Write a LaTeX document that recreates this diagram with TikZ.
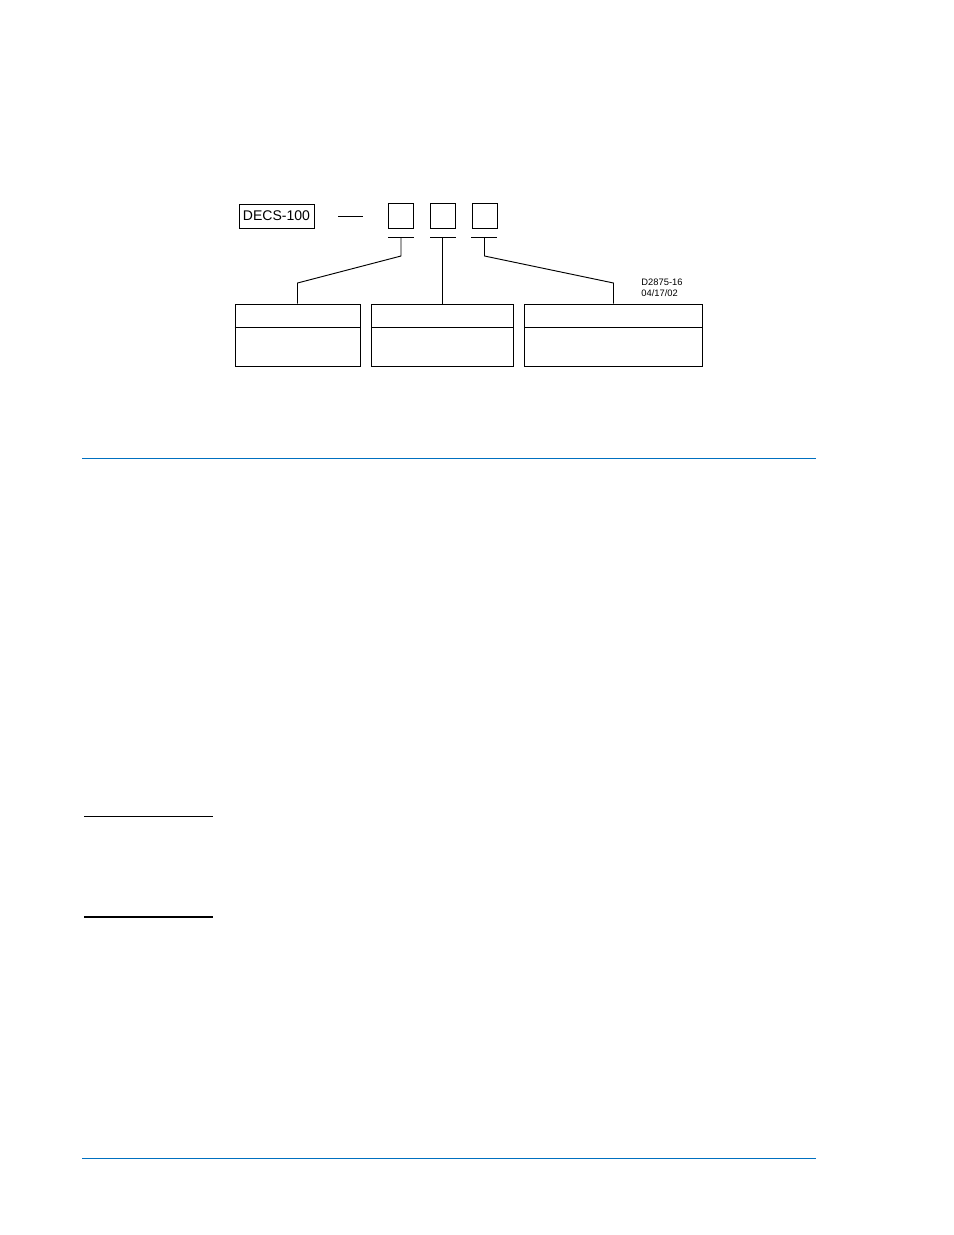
\documentclass[tikz,border=0pt]{standalone}
\usepackage{fontspec}
\setmainfont{Liberation Sans}
\usetikzlibrary{calc}
\definecolor{rule}{RGB}{0,112,192}
\begin{document}
\begin{tikzpicture}[x=0.6415pt,y=-0.6415pt,
  line width=0.6pt,
  box/.style={draw,inner sep=0pt,line width=0.6pt},
  sq/.style={box,minimum width=16.0pt,minimum height=16.0pt},
  bigbox/.style={box,minimum height=40.1pt},
  wire/.style={line width=0.6pt},
  bluerule/.style={draw=rule,line width=0.7pt}]
\useasboundingbox (0,0) rectangle (954,1235);

% model number part
\node[box,minimum width=48.1pt,minimum height=15.4pt,font=\fontsize{9}{10}\selectfont] (decs) at (276.5,216) {DECS-100};
\coordinate (d1) at (338,216);
\coordinate (d2) at (363,216);
\draw[wire] (d1) -- (d2);

\node[sq] (s1) at (400.5,215.5) {};
\node[sq] (s2) at (443,215.5) {};
\node[sq] (s3) at (484.5,215.5) {};

% underline bars
\coordinate (b1l) at (388,237); \coordinate (b1r) at (414,237); \coordinate (b1m) at (401,237);
\coordinate (b2l) at (430,237); \coordinate (b2r) at (456,237); \coordinate (b2m) at (442.5,237);
\coordinate (b3l) at (471,237); \coordinate (b3r) at (497,237); \coordinate (b3m) at (484.5,237);
\draw[wire] (b1l) -- (b1r);
\draw[wire] (b2l) -- (b2r);
\draw[wire] (b3l) -- (b3r);

% bottom boxes
\node[bigbox,minimum width=80.2pt] (A) at (297.5,335.25) {};
\node[bigbox,minimum width=90.8pt] (B) at (442.5,335.25) {};
\node[bigbox,minimum width=114.4pt] (C) at (613.5,335.25) {};
\foreach \n in {A,B,C}{
  \draw[wire] ($(\n.north west)!0.384!(\n.south west)$) -- ($(\n.north east)!0.384!(\n.south east)$);
}

% connectors
\coordinate (k1) at (401,256);
\coordinate (k2) at (297.5,283);
\draw[wire] (b1m) -- (k1) -- (k2) -- (A.north);
\draw[wire] (b2m) -- (B.north);
\coordinate (k3) at (484.5,256);
\coordinate (k4) at (613.5,283);
\draw[wire] (b3m) -- (k3) -- (k4) -- (C.north);

% drawing id
\node[anchor=north west,inner sep=0pt,align=left,font=\fontsize{6}{7}\selectfont] (id) at (641,278.5) {D2875-16\\04/17/02};

% page rules
\coordinate (r1l) at (82,458.3); \coordinate (r1r) at (816,458.3);
\draw[bluerule] (r1l) -- (r1r);
\coordinate (r2l) at (82,1158.3); \coordinate (r2r) at (816,1158.3);
\draw[bluerule] (r2l) -- (r2r);

\coordinate (f1l) at (84,816.3); \coordinate (f1r) at (213,816.3);
\draw[line width=0.75pt] (f1l) -- (f1r);
\coordinate (f2l) at (84,916.7); \coordinate (f2r) at (213,916.7);
\draw[line width=1.4pt] (f2l) -- (f2r);
\end{tikzpicture}
\end{document}
